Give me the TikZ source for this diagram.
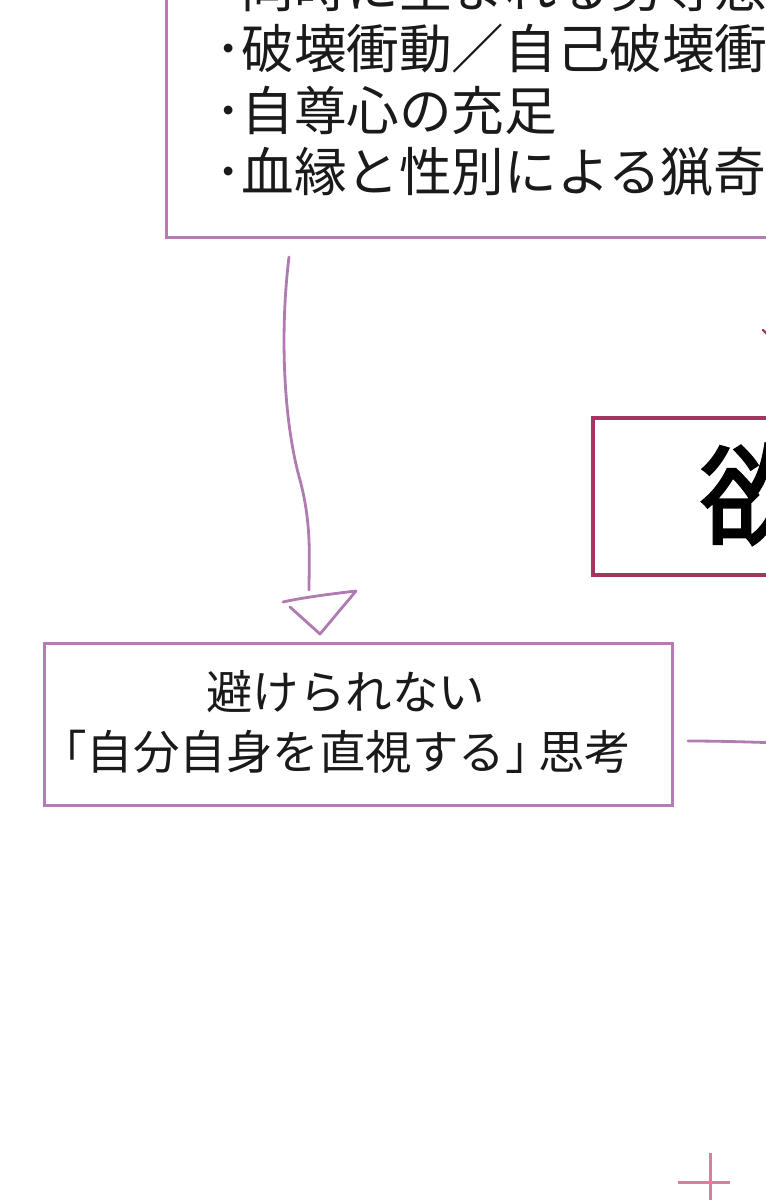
\documentclass[tikz,border=0pt]{standalone}
\usepackage{fontspec}
\setmainfont{Noto Sans CJK JP}
\newfontfamily\bigfont[FakeBold=2.2]{Noto Sans CJK JP}
\usetikzlibrary{calc}
\definecolor{boxc}{HTML}{B67BB6}
\definecolor{arrc}{HTML}{B07AB2}
\definecolor{bigc}{HTML}{A33560}
\definecolor{crossc}{HTML}{E17A9B}
\definecolor{txt}{HTML}{1A1A1A}
\tikzset{
  pbox/.style={draw=boxc, line width=3pt, fill=none, inner sep=0pt, outer sep=0pt},
  bigbox/.style={draw=bigc, line width=3.2pt, fill=none, inner sep=0pt, outer sep=0pt},
  ttext/.style={text=txt, inner sep=0pt, font=\fontsize{52.6}{62}\selectfont},
  ltext/.style={text=txt, inner sep=0pt, font=\fontsize{46.5}{58}\selectfont},
  conn/.style={draw=arrc, line width=2.8pt, line cap=round, line join=round},
  crossl/.style={draw=crossc, line width=3pt}
}
\begin{document}
\begin{tikzpicture}[x=1pt,y=-1pt]
\useasboundingbox (0,0) rectangle (766,1200);
\clip (0,0) rectangle (766,1200);
\fill[white] (0,0) rectangle (766,1200);

% top box
\node[pbox, minimum width=800pt, minimum height=400pt, anchor=south west] (topbox) at (166,237) {};
\node[ttext, anchor=base west] (t1) at (215,7) {･同時に生まれる劣等感};
\node[ttext, anchor=base west] (t2) at (215,68) {･破壊衝動／自己破壊衝動};
\node[ttext, anchor=base west] (t3) at (215,130) {･自尊心の充足};
\node[ttext, anchor=base west] (t4) at (215,191) {･血縁と性別による猟奇};

% big box
\node[bigbox, minimum width=400pt, minimum height=157pt, anchor=north west] (bigbox) at (593,418) {};
\node[text=black, inner sep=0pt, anchor=base west, font=\bigfont\fontsize{110}{110}\selectfont] (big) at (700,536) {欲};
\coordinate (bigin) at (763,330);
\draw[draw=bigc, line width=2.4pt, line cap=round] (bigin) -- ($(bigin)+(6,6)$);

% left box
\node[pbox, minimum width=628pt, minimum height=162pt, anchor=north west] (leftbox) at (44,643) {};
\node[ltext, anchor=base west] (l1) at (206,709) {避けられない};
\node[ltext, anchor=base west] (l2) at (40,769) {「自分自身を直視する」\kern-13.5pt思考};

% arrow from top box to left box
\coordinate (a0) at ($(topbox.south west)+(123,20)$);
\coordinate (a1) at (309,590);
\draw[conn] (a0) .. controls (280,330) and (283,420) .. (300,480)
               .. controls (312,525) and (309,560) .. (a1);
\draw[conn] (283,602) .. controls (300,598) and (330,594) .. (356,591)
            -- ($(leftbox.north west)+(276,-9)$) -- (290,607);

% connector to the right
\coordinate (rr) at (780,743);
\draw[conn] ($(leftbox.east)+(16,17)$) .. controls (720,741) and (750,742) .. (rr);

% cross
\coordinate (cr) at (710,1182);
\draw[crossl] ($(cr)+(-32,0)$) -- ($(cr)+(20,0)$);
\draw[crossl] ($(cr)+(0,-29)$) -- ($(cr)+(0,25)$);
\end{tikzpicture}
\end{document}
